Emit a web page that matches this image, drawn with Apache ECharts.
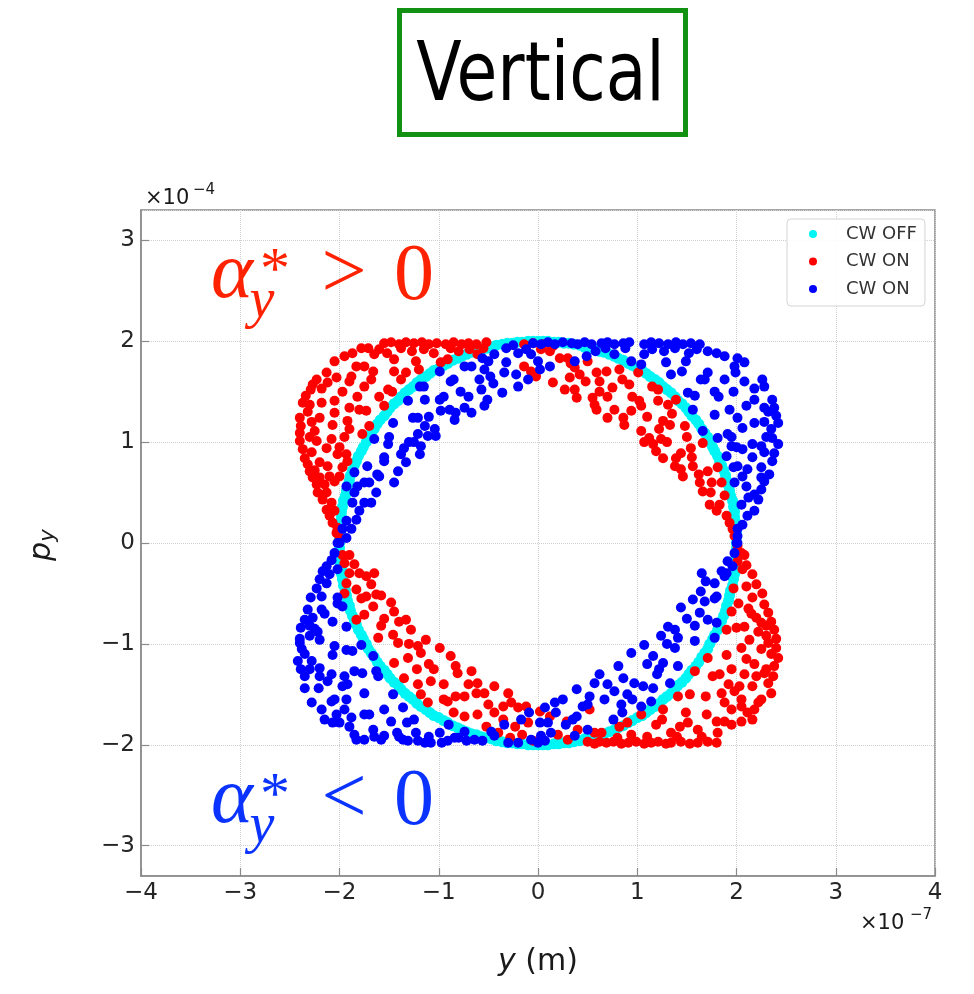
<!DOCTYPE html>
<html>
<head>
<meta charset="utf-8">
<script src="https://cdn.jsdelivr.net/npm/echarts@6/dist/echarts.min.js"></script>
<style>
  html, body { margin: 0; padding: 0; background: #ffffff; }
  #chart { width: 974px; height: 994px; }
</style>
</head>
<body>
<div id="chart"></div>
<script>
// Phase-space coordinates: y in units of 1e-7 m, p_y in units of 1e-4.

// Tick values of the two axes
const yTicks = [-4, -3, -2, -1, 0, 1, 2, 3, 4];
const pTicks = [-3, -2, -1, 0, 1, 2, 3];

// CW OFF: the unperturbed ring
const cwOff = [
  [2.00,0.00],[2.00,0.05],[2.00,0.10],[1.99,0.16],[1.99,0.21],[1.98,0.26],[1.98,0.31],[1.97,0.36],[1.96,0.42],[1.94,0.47],
  [1.93,0.52],[1.92,0.57],[1.90,0.62],[1.89,0.67],[1.87,0.72],[1.85,0.77],[1.83,0.81],[1.81,0.86],[1.78,0.91],[1.76,0.95],
  [1.73,1.00],[1.71,1.05],[1.68,1.09],[1.65,1.13],[1.62,1.18],[1.59,1.22],[1.55,1.26],[1.52,1.30],[1.49,1.34],[1.45,1.38],
  [1.41,1.41],[1.38,1.45],[1.34,1.49],[1.30,1.52],[1.26,1.55],[1.22,1.59],[1.18,1.62],[1.13,1.65],[1.09,1.68],[1.05,1.71],
  [1.00,1.73],[0.95,1.76],[0.91,1.78],[0.86,1.81],[0.81,1.83],[0.77,1.85],[0.72,1.87],[0.67,1.89],[0.62,1.90],[0.57,1.92],
  [0.52,1.93],[0.47,1.94],[0.42,1.96],[0.36,1.97],[0.31,1.98],[0.26,1.98],[0.21,1.99],[0.16,1.99],[0.10,2.00],[0.05,2.00],
  [0.00,2.00],[-0.05,2.00],[-0.10,2.00],[-0.16,1.99],[-0.21,1.99],[-0.26,1.98],[-0.31,1.98],[-0.36,1.97],[-0.42,1.96],[-0.47,1.94],
  [-0.52,1.93],[-0.57,1.92],[-0.62,1.90],[-0.67,1.89],[-0.72,1.87],[-0.77,1.85],[-0.81,1.83],[-0.86,1.81],[-0.91,1.78],[-0.95,1.76],
  [-1.00,1.73],[-1.05,1.71],[-1.09,1.68],[-1.13,1.65],[-1.18,1.62],[-1.22,1.59],[-1.26,1.55],[-1.30,1.52],[-1.34,1.49],[-1.38,1.45],
  [-1.41,1.41],[-1.45,1.38],[-1.49,1.34],[-1.52,1.30],[-1.55,1.26],[-1.59,1.22],[-1.62,1.18],[-1.65,1.13],[-1.68,1.09],[-1.71,1.05],
  [-1.73,1.00],[-1.76,0.95],[-1.78,0.91],[-1.81,0.86],[-1.83,0.81],[-1.85,0.77],[-1.87,0.72],[-1.89,0.67],[-1.90,0.62],[-1.92,0.57],
  [-1.93,0.52],[-1.94,0.47],[-1.96,0.42],[-1.97,0.36],[-1.98,0.31],[-1.98,0.26],[-1.99,0.21],[-1.99,0.16],[-2.00,0.10],[-2.00,0.05],
  [-2.00,0.00],[-2.00,-0.05],[-2.00,-0.10],[-1.99,-0.16],[-1.99,-0.21],[-1.98,-0.26],[-1.98,-0.31],[-1.97,-0.36],[-1.96,-0.42],[-1.94,-0.47],
  [-1.93,-0.52],[-1.92,-0.57],[-1.90,-0.62],[-1.89,-0.67],[-1.87,-0.72],[-1.85,-0.77],[-1.83,-0.81],[-1.81,-0.86],[-1.78,-0.91],[-1.76,-0.95],
  [-1.73,-1.00],[-1.71,-1.05],[-1.68,-1.09],[-1.65,-1.13],[-1.62,-1.18],[-1.59,-1.22],[-1.55,-1.26],[-1.52,-1.30],[-1.49,-1.34],[-1.45,-1.38],
  [-1.41,-1.41],[-1.38,-1.45],[-1.34,-1.49],[-1.30,-1.52],[-1.26,-1.55],[-1.22,-1.59],[-1.18,-1.62],[-1.13,-1.65],[-1.09,-1.68],[-1.05,-1.71],
  [-1.00,-1.73],[-0.95,-1.76],[-0.91,-1.78],[-0.86,-1.81],[-0.81,-1.83],[-0.77,-1.85],[-0.72,-1.87],[-0.67,-1.89],[-0.62,-1.90],[-0.57,-1.92],
  [-0.52,-1.93],[-0.47,-1.94],[-0.42,-1.96],[-0.36,-1.97],[-0.31,-1.98],[-0.26,-1.98],[-0.21,-1.99],[-0.16,-1.99],[-0.10,-2.00],[-0.05,-2.00],
  [0.00,-2.00],[0.05,-2.00],[0.10,-2.00],[0.16,-1.99],[0.21,-1.99],[0.26,-1.98],[0.31,-1.98],[0.36,-1.97],[0.42,-1.96],[0.47,-1.94],
  [0.52,-1.93],[0.57,-1.92],[0.62,-1.90],[0.67,-1.89],[0.72,-1.87],[0.77,-1.85],[0.81,-1.83],[0.86,-1.81],[0.91,-1.78],[0.95,-1.76],
  [1.00,-1.73],[1.05,-1.71],[1.09,-1.68],[1.13,-1.65],[1.18,-1.62],[1.22,-1.59],[1.26,-1.55],[1.30,-1.52],[1.34,-1.49],[1.38,-1.45],
  [1.41,-1.41],[1.45,-1.38],[1.49,-1.34],[1.52,-1.30],[1.55,-1.26],[1.59,-1.22],[1.62,-1.18],[1.65,-1.13],[1.68,-1.09],[1.71,-1.05],
  [1.73,-1.00],[1.76,-0.95],[1.78,-0.91],[1.81,-0.86],[1.83,-0.81],[1.85,-0.77],[1.87,-0.72],[1.89,-0.67],[1.90,-0.62],[1.92,-0.57],
  [1.93,-0.52],[1.94,-0.47],[1.96,-0.42],[1.97,-0.36],[1.98,-0.31],[1.98,-0.26],[1.99,-0.21],[1.99,-0.16],[2.00,-0.10],[2.00,-0.05]
];

// CW ON, positive alpha (red)
const cwOnPos = [
  // upper-left lobe
  [-1.55,1.98],[-1.48,1.99],[-1.40,1.97],[-1.33,1.99],[-1.25,1.98],[-1.17,1.99],[-1.10,1.97],[-1.02,1.98],[-0.93,1.97],[-0.85,1.99],
  [-0.77,1.97],[-0.70,1.98],[-0.62,1.97],[-0.52,1.99],[-0.14,1.97],[-0.05,1.98],
  [-1.78,1.93],[-1.71,1.93],[-1.87,1.88],[-1.95,1.85],[-2.05,1.80],[-1.65,1.87],[-1.45,1.82],[-1.23,1.80],[-1.33,1.69],[-0.91,1.82],
  [-0.98,1.79],[-0.69,1.92],[-0.61,1.87],[-0.55,1.93],[-1.05,1.88],[-0.80,1.90],[-1.20,1.72],[-1.38,1.62],[-1.60,1.45],
  [-2.13,1.69],[-2.23,1.62],[-2.27,1.57],[-2.29,1.52],[-2.12,1.59],[-2.03,1.64],[-1.90,1.60],[-1.88,1.65],[-1.75,1.55],[-1.66,1.70],
  [-1.75,1.75],[-1.83,1.75],[-1.51,1.52],[-1.47,1.50],
  [-2.34,1.46],[-2.37,1.39],[-2.30,1.37],[-2.18,1.39],[-2.05,1.41],[-1.90,1.34],[-1.80,1.32],[-1.73,1.31],[-1.55,1.36],[-2.40,1.24],
  [-2.20,1.24],[-2.05,1.29],[-2.39,1.16],[-2.07,1.17],[-1.92,1.21],[-2.40,1.09],[-2.25,1.11],[-1.90,1.13],[-1.70,1.16],[-1.77,1.08],
  [-2.40,1.01],[-2.23,1.01],[-2.08,1.03],[-2.13,0.94],[-2.37,0.93],[-2.02,0.88],[-1.93,0.88],[-1.92,0.81],[-2.35,0.84],[-2.32,0.78],
  [-2.20,0.80],[-2.12,0.76],[-2.30,0.71],[-2.27,0.65],[-2.10,0.66],[-2.00,0.66],[-2.23,0.58],[-2.15,0.58],[-2.05,0.61],[-2.22,0.50],
  [-2.13,0.50],[-2.17,0.43],[-2.08,0.40],[-2.13,0.33],[-2.05,0.32],[-2.10,0.27],[-2.07,0.20],[-2.02,0.15],[-2.03,0.10],[-2.00,0.06],
  [-1.60,1.92],[-1.38,1.93],[-1.15,1.92],[-0.88,1.93],[-1.27,1.90],[-1.52,1.88],[-2.18,1.53],[-2.32,1.30],[-2.28,1.20],[-2.30,1.05],
  [-2.28,0.90],[-2.25,0.72],[-2.20,0.65],[-1.97,1.50],[-1.68,1.62],[-1.45,1.70],[-1.95,1.05],[-1.82,1.45],[-2.00,0.95],[-1.97,0.75],
  // band inside the ring, upper right
  [-0.14,1.75],[-0.07,1.70],[-0.02,1.65],[0.05,1.97],[0.15,1.95],[0.33,1.78],
  [0.03,1.92],[0.12,1.90],[0.22,1.83],[0.30,1.83],[0.37,1.74],[0.32,1.64],[0.42,1.67],[0.15,1.59],[0.27,1.52],[0.37,1.52],
  [0.39,1.44],[0.59,1.69],[0.69,1.70],[0.82,1.72],[0.62,1.60],[0.62,1.50],[0.75,1.54],[0.92,1.57],[1.01,1.69],[0.55,1.44],
  [0.57,1.37],[0.59,1.32],[0.77,1.32],[0.70,1.24],[0.86,1.24],[0.87,1.17],[0.94,1.31],[1.02,1.41],[1.04,1.36],[1.21,1.52],
  [1.21,1.41],[1.31,1.37],[1.39,1.42],[1.26,1.21],[1.33,1.17],[1.22,1.13],[1.04,1.11],[1.12,1.04],[1.16,0.98],[1.24,1.03],
  [1.48,1.16],[1.07,1.00],[1.19,0.91],[1.26,0.84],[1.39,0.84],[1.44,0.89],[1.54,0.94],[1.66,0.99],[1.38,0.76],[1.44,0.73],
  [1.56,0.76],[1.71,0.71],[1.81,0.75],[1.63,0.60],[1.46,0.66],[1.66,0.51],[1.74,0.50],[1.85,0.60],[1.88,0.47],[1.73,0.38],
  [1.83,0.38],[1.80,0.32],[1.90,0.27],[1.93,0.20],[1.96,0.14],[1.98,0.07],
  [0.48,1.60],[0.70,1.45],[0.95,1.45],[1.10,1.25],[1.30,1.00],[1.55,0.85],[1.62,0.68],[1.75,0.60],[1.50,1.05],[0.85,1.62],
  [1.15,1.55],[0.50,1.80],[1.35,1.28],
  // band inside the ring, lower left
  [-1.97,-0.12],[-1.95,-0.20],[-1.90,-0.12],[-1.85,-0.21],[-1.80,-0.30],[-1.73,-0.33],[-1.93,-0.40],[-1.95,-0.50],[-1.83,-0.46],[-1.68,-0.41],
  [-1.73,-0.53],[-1.63,-0.51],[-1.58,-0.52],[-1.66,-0.63],[-1.48,-0.59],[-1.45,-0.68],[-1.40,-0.78],[-1.83,-0.76],[-1.75,-0.71],[-1.61,-0.94],
  [-1.46,-0.91],[-1.33,-0.76],[-1.28,-0.86],[-1.41,-0.99],[-1.21,-1.02],[-1.18,-1.09],[-1.13,-0.96],[-0.99,-1.04],[-0.88,-1.12],[-1.45,-1.19],
  [-1.31,-1.14],[-0.83,-1.22],[-0.81,-1.29],[-0.67,-1.27],[-1.35,-1.34],[-1.21,-1.40],[-1.08,-1.37],[-1.18,-1.50],[-1.11,-1.58],[-0.91,-1.57],
  [-0.83,-1.52],[-0.74,-1.52],[-0.61,-1.39],[-0.62,-1.49],[-0.54,-1.49],[-0.44,-1.42],[-0.74,-1.72],[-0.61,-1.70],[-0.52,-1.82],[-0.44,-1.68],
  [-0.30,-1.49],[-0.27,-1.58],[-0.20,-1.63],[-0.10,-1.78],[-0.12,-1.62],[-0.40,-1.88],[-0.23,-1.82],[-0.16,-1.90],[-0.05,-1.96],[-1.55,-0.75],
  [-1.05,-1.25],[-0.95,-1.40],[-0.35,-1.62],[-0.28,-1.93],
  [-1.78,-0.55],[-1.58,-0.82],[-1.30,-1.00],[-1.10,-1.20],[-0.95,-1.55],[-0.70,-1.40],[-0.50,-1.60],[-0.35,-1.75],[-1.65,-0.30],[-1.90,-0.30],
  [-1.22,-1.25],[-0.85,-1.68],
  // lower-right lobe
  [0.50,-1.97],[0.57,-1.99],[0.62,-1.97],[0.69,-1.98],[0.76,-1.97],[0.84,-1.99],[0.91,-1.98],[0.99,-1.97],[1.07,-1.99],[1.14,-1.98],
  [1.21,-1.97],[1.29,-1.99],[1.34,-1.98],[1.44,-1.97],[1.53,-1.99],[1.61,-1.98],[1.71,-1.97],[1.80,-1.98],
  [0.02,-1.67],[0.12,-1.72],[0.29,-1.77],[0.40,-1.85],[0.20,-1.90],[0.30,-1.95],[0.52,-1.65],[0.57,-1.88],[0.64,-1.88],[0.82,-1.82],
  [1.04,-1.70],[1.19,-1.80],[0.94,-1.90],[1.26,-1.65],[1.34,-1.88],[1.43,-1.82],[1.51,-1.78],[1.49,-1.68],[1.61,-1.85],[1.81,-1.88],
  [1.80,-1.77],[1.88,-1.77],[1.95,-1.80],[2.05,-1.77],[2.11,-1.68],[2.16,-1.75],[2.18,-1.65],[2.05,-1.62],[1.88,-1.58],[1.69,-1.52],
  [1.85,-1.49],[1.98,-1.47],[2.16,-1.42],[2.32,-1.39],[2.35,-1.49],[2.37,-1.32],[2.28,-1.29],[2.18,-1.20],[2.38,-1.22],[2.42,-1.14],
  [2.40,-1.04],[2.32,-0.99],[2.38,-0.86],[2.25,-0.79],[2.35,-0.78],[2.32,-0.69],[2.20,-0.74],[2.28,-0.61],[2.16,-0.54],[2.26,-0.50],
  [2.20,-0.41],[2.10,-0.43],[2.16,-0.31],[2.06,-0.26],[2.01,-0.18],[2.05,-0.10],[2.01,-0.03],[1.95,-0.68],[1.90,-0.86],[2.00,-0.84],
  [2.08,-0.83],[2.13,-0.96],[1.90,-1.11],[2.05,-1.04],[1.71,-1.14],[1.76,-1.32],[1.83,-1.30],[1.58,-1.27],[2.03,-1.42],[1.41,-1.52],
  [1.53,-1.50],[2.25,-1.05],[2.10,-1.15],[1.95,-1.25],[2.25,-1.55],[2.30,-0.92],[2.12,-0.65],[1.97,-0.45],[2.22,-1.58],[2.08,-0.12],
  [2.10,-0.22],
  [1.65,-1.92],[1.40,-1.92],[1.10,-1.92],[0.80,-1.93],[2.30,-1.25],[2.40,-0.95],[2.30,-0.82],[2.22,-0.88],[2.20,-1.32],[2.05,-1.55],
  [1.95,-1.65],[2.15,-0.70],[2.02,-0.60],[2.08,-1.30],[1.92,-1.40],[1.70,-1.70],[1.25,-1.75],[0.90,-1.78],[2.35,-1.10]
];

// CW ON, negative alpha (blue)
const cwOnNeg = [
  // band inside the ring, upper left
  [-0.05,1.98],[-0.07,1.87],[-0.20,1.88],[-0.32,1.93],[-0.44,1.87],[-0.56,1.83],[-0.32,1.79],[-0.22,1.67],[-0.10,1.62],[-0.20,1.55],
  [-0.34,1.69],[-0.36,1.49],[-0.54,1.72],[-0.59,1.62],[-0.67,1.75],[-0.74,1.75],[-0.99,1.70],[-0.88,1.60],[-0.57,1.52],[-0.51,1.42],
  [-0.54,1.36],[-0.67,1.29],[-0.74,1.34],[-0.83,1.29],[-0.84,1.22],[-0.89,1.32],[-0.99,1.42],[-0.98,1.31],[-1.14,1.42],[-1.19,1.55],
  [-1.31,1.41],[-1.26,1.24],[-1.21,1.24],[-1.14,1.16],[-1.04,1.13],[-1.03,1.06],[-1.11,1.06],[-1.21,1.08],[-1.18,0.96],[-1.19,0.88],
  [-1.35,0.94],[-1.38,0.88],[-1.33,0.80],[-1.41,0.71],[-1.46,1.19],[-1.55,0.81],[-1.51,0.98],[-1.65,1.03],[-1.72,0.76],[-1.60,0.66],
  [-1.70,0.60],[-1.82,0.56],[-1.63,0.50],[-1.85,0.70],[-1.93,0.56],[-1.85,0.50],[-1.75,0.40],[-1.68,0.40],[-1.87,0.40],[-1.80,0.32],
  [-1.83,0.23],[-1.93,0.22],[-1.88,0.14],[-1.97,0.14],[-1.93,0.05],[-2.00,0.00],[-0.25,1.96],[-0.12,1.92],[-0.45,1.58],[-0.78,1.50],
  [-1.25,1.00],[-1.45,0.60],
  [-0.48,1.65],[-0.70,1.45],[-0.95,1.45],[-1.10,1.25],[-1.30,1.00],[-1.55,0.85],[-1.62,0.68],[-1.75,0.60],[-1.50,1.05],[-0.85,1.62],
  [-1.15,1.55],[-0.50,1.80],
  // upper-right lobe
  [0.03,1.97],[0.10,1.99],[0.17,1.97],[0.25,1.99],[0.34,1.98],[0.40,1.97],[0.47,1.99],[0.54,1.97],[0.64,1.98],[0.70,1.99],
  [0.77,1.97],[0.86,1.98],[0.92,1.99],[1.07,1.97],[1.14,1.99],[1.22,1.98],[1.31,1.97],[1.39,1.99],[1.46,1.97],[1.54,1.98],[1.63,1.97],
  [1.71,1.90],[1.80,1.88],[1.88,1.85],[2.01,1.83],[2.08,1.79],[1.98,1.75],[1.71,1.69],[1.49,1.80],[1.29,1.79],[1.34,1.67],
  [1.07,1.87],[1.04,1.77],[0.94,1.80],[0.77,1.87],[0.49,1.85],[0.58,1.90],[0.68,1.93],[0.37,1.80],[0.12,1.75],[0.02,1.72],[0.00,1.80],
  [1.64,1.62],[1.88,1.62],[1.78,1.50],[1.99,1.69],[2.08,1.60],[2.26,1.62],[2.28,1.55],[2.18,1.42],[2.28,1.34],[2.36,1.42],
  [2.38,1.34],[2.40,1.26],[2.42,1.19],[2.35,1.13],[2.36,1.04],[2.42,0.98],[2.38,0.89],[2.36,0.81],[2.33,0.68],[2.28,0.61],
  [2.25,0.53],[2.18,0.48],[2.22,0.43],[2.18,0.32],[2.11,0.27],[2.06,0.18],[2.01,0.14],[2.01,0.07],[2.00,0.00],
  [1.51,1.49],[1.58,1.46],[1.56,1.32],[1.78,1.27],[1.93,1.32],[2.01,1.24],[2.10,1.36],[2.18,1.19],[2.06,1.14],[1.91,1.08],
  [1.81,1.04],[1.66,1.11],[1.95,0.96],[2.06,0.93],[2.16,0.98],[2.25,0.96],[2.16,0.85],[1.90,0.86],[2.01,0.76],[2.11,0.73],
  [2.06,0.66],[1.98,0.60],[2.10,0.56],[2.05,0.38],[2.25,0.75],[2.12,0.45],
  [1.60,1.92],[1.38,1.93],[1.15,1.92],[0.88,1.93],[1.27,1.90],[1.52,1.88],[2.18,1.53],[2.32,1.30],[2.28,1.20],[2.30,1.05],
  [2.28,0.90],[2.25,0.65],[1.97,1.50],[1.68,1.62],[1.45,1.70],[1.95,1.05],[1.82,1.45],[2.00,0.95],[1.97,0.75],
  // lower-left lobe
  [-2.02,0.00],[-2.05,-0.10],[-2.08,-0.17],[-2.13,-0.23],[-2.17,-0.28],[-2.02,-0.26],[-2.10,-0.31],[-2.20,-0.36],[-2.23,-0.45],[-2.13,-0.40],
  [-2.29,-0.54],[-2.18,-0.53],[-2.02,-0.54],[-1.97,-0.63],[-2.32,-0.66],[-2.18,-0.66],[-2.27,-0.74],[-2.35,-0.76],[-2.07,-0.78],[-1.93,-0.83],
  [-2.39,-0.84],[-2.30,-0.92],[-2.20,-0.96],[-2.40,-0.99],[-2.05,-1.02],[-1.93,-1.06],[-1.87,-1.07],[-2.07,-1.11],[-1.78,-1.01],[-1.66,-1.12],
  [-2.42,-1.17],[-2.28,-1.17],[-2.39,-1.25],[-2.20,-1.24],[-2.35,-1.32],[-2.12,-1.37],[-1.95,-1.32],[-1.85,-1.27],[-1.77,-1.29],[-1.63,-1.27],
  [-1.61,-1.32],[-2.35,-1.44],[-2.21,-1.44],[-1.97,-1.42],[-1.75,-1.49],[-1.46,-1.50],[-2.28,-1.58],[-2.08,-1.57],[-1.93,-1.55],[-2.18,-1.65],
  [-2.03,-1.70],[-2.15,-1.75],[-2.07,-1.78],[-2.00,-1.78],[-1.88,-1.73],[-1.75,-1.70],[-1.55,-1.65],[-1.36,-1.63],[-1.48,-1.77],[-1.32,-1.78],
  [-1.90,-1.82],[-1.66,-1.85],[-1.85,-1.90],[-1.75,-1.95],[-1.83,-1.95],[-1.58,-1.95],[-1.55,-1.91],[-1.42,-1.88],[-1.36,-1.95],[-1.31,-1.96],
  [-1.23,-1.88],[-1.21,-1.96],[-1.14,-1.98],[-1.08,-1.98],[-0.99,-1.88],[-0.97,-1.98],[-0.91,-1.96],[-0.84,-1.93],[-0.74,-1.87],[-0.72,-1.96],
  [-0.64,-1.95],[-0.56,-1.96],[-0.47,-1.87],[-0.44,-1.91],[-0.34,-1.80],[-0.30,-1.98],[-0.20,-1.98],[-0.09,-1.68],[-0.17,-1.75],[-0.07,-1.95],
  [0.00,-1.98],[-2.38,-1.05],[-2.25,-0.85],
  [-1.65,-1.92],[-1.40,-1.92],[-1.10,-1.92],[-0.80,-1.93],[-2.30,-1.25],[-2.40,-0.95],[-2.30,-0.82],[-2.22,-0.88],[-2.20,-1.32],[-2.05,-1.55],
  [-1.95,-1.65],[-2.15,-0.70],[-2.02,-0.60],[-2.08,-1.30],[-1.92,-1.40],[-1.70,-1.70],[-1.25,-1.75],[-0.90,-1.80],[-2.35,-1.10],
  // band inside the ring, lower right
  [2.01,0.00],[1.98,-0.10],[1.91,-0.18],[1.96,-0.23],[1.88,-0.33],[1.78,-0.40],[1.69,-0.38],[1.64,-0.48],[1.80,-0.53],[1.68,-0.58],
  [1.56,-0.56],[1.44,-0.64],[1.63,-0.69],[1.71,-0.76],[1.80,-0.79],[1.31,-0.83],[1.38,-0.86],[1.41,-0.94],[1.24,-0.92],[1.58,-0.97],
  [1.78,-0.94],[1.38,-1.04],[1.07,-1.01],[1.16,-1.12],[0.94,-1.09],[1.26,-1.19],[1.41,-1.22],[0.81,-1.22],[0.86,-1.34],[0.97,-1.39],
  [1.06,-1.42],[1.16,-1.44],[1.33,-1.39],[1.04,-1.62],[1.14,-1.57],[0.77,-1.47],[0.62,-1.30],[0.57,-1.39],[0.52,-1.52],[0.67,-1.55],
  [0.84,-1.60],[0.76,-1.75],[0.39,-1.45],[0.25,-1.55],[0.17,-1.58],[0.07,-1.63],[0.18,-1.68],[0.39,-1.72],[0.02,-1.78],[0.10,-1.78],
  [0.13,-1.88],[0.03,-1.91],[0.50,-1.85],[0.37,-1.91],[0.07,-1.96],[1.50,-0.75],[1.20,-1.30],[0.90,-1.50],[0.45,-1.62],[0.28,-1.80],
  [1.85,-0.28],
  [1.78,-0.55],[1.58,-0.82],[1.30,-1.00],[1.10,-1.20],[0.95,-1.55],[0.70,-1.40],[0.50,-1.60],[0.35,-1.75],[1.65,-0.30],[1.90,-0.30],
  [1.22,-1.25],[0.85,-1.68]
];

const seriesNames = ['CW OFF', 'CW ON', 'CW ON '];
const seriesColors = ['#00f5f5', '#ff0000', '#0000ff'];

const minusSign = v => String(v).replace('-', '\u2212');
const tickFont = { fontFamily: 'DejaVu Sans', fontSize: 23, color: '#262626' };
const frameColor = '#8a8a8a';

const chart = echarts.init(document.getElementById('chart'), null, { renderer: 'canvas' });

// Pieces of the alpha annotations (symbol, superscript, subscript, relation, zero)
function alphaLabel(color, relation, dy) {
  const serif = '"Liberation Serif", "DejaVu Serif", serif';
  const piece = (text, x, y, size, italic) => ({
    type: 'text', x: x, y: y + dy, z: 20,
    style: {
      text: text, fill: color,
      font: (italic ? 'italic ' : '') + size + 'px ' + serif,
      align: 'center', verticalAlign: 'middle',
      textAlign: 'center', textVerticalAlign: 'middle'
    }
  });
  return [
    piece('\u03b1', 232, 800.6, 80, true),
    piece('*', 275, 797, 60, false),
    piece('y', 262, 827.4, 56, true),
    piece(relation, 344, 801, 80, false),
    piece('0', 414, 803, 80, false)
  ];
}

function plainText(text, x, y, size, extra) {
  return Object.assign({
    type: 'text', x: x, y: y, z: 20,
    style: {
      text: text, fill: '#1a1a1a',
      font: size + 'px "DejaVu Sans"',
      align: 'left', verticalAlign: 'middle',
      textAlign: 'left', textVerticalAlign: 'middle'
    }
  }, extra || {});
}

const graphics = [
  // title box
  { type: 'rect', z: 10, shape: { x: 399.5, y: 10.5, width: 286, height: 124 },
    style: { fill: '#ffffff', stroke: '#129112', lineWidth: 5 } },
  { type: 'text', z: 11, x: 540.5, y: 78.6, scaleX: 0.81, scaleY: 1,
    style: { text: 'Vertical', fill: '#000000', font: '82px "DejaVu Sans"',
             align: 'center', verticalAlign: 'middle', textAlign: 'center', textVerticalAlign: 'middle' } },
  // axis scale factors
  plainText('\u00d710', 145, 198.8, 21),
  plainText('\u22124', 193, 190.5, 15),
  plainText('\u00d710', 860, 924, 21),
  plainText('\u22127', 910, 915.5, 15),
  // x-axis title
  { type: 'text', z: 20, x: 538, y: 962,
    style: { text: '{i|y} (m)', fill: '#1a1a1a', font: '30px "DejaVu Sans"',
             align: 'center', verticalAlign: 'middle', textAlign: 'center', textVerticalAlign: 'middle',
             rich: { i: { fontStyle: 'italic', fontSize: 30, fontFamily: 'DejaVu Sans', fill: '#1a1a1a' } } } },
  // y-axis title, rotated
  { type: 'group', x: 51, y: 544, rotation: Math.PI / 2, z: 20,
    children: [
      { type: 'text', x: -7.5, y: -8.9,
        style: { text: 'p', fill: '#1a1a1a', font: 'italic 30px "DejaVu Sans"',
                 align: 'center', verticalAlign: 'middle', textAlign: 'center', textVerticalAlign: 'middle' } },
      { type: 'text', x: 8.5, y: -2.2,
        style: { text: 'y', fill: '#1a1a1a', font: 'italic 21px "DejaVu Sans"',
                 align: 'center', verticalAlign: 'middle', textAlign: 'center', textVerticalAlign: 'middle' } }
    ] }
].concat(alphaLabel('#ff2200', '>', -525), alphaLabel('#0a33ff', '<', 0));

const option = {
  animation: false,
  backgroundColor: '#ffffff',
  grid: { left: 141, right: 39, top: 210, bottom: 118, show: true,
          borderColor: frameColor, borderWidth: 1.5, backgroundColor: 'transparent' },
  legend: {
    orient: 'vertical', left: 787, top: 219,
    padding: [6, 8, 8, 22], itemGap: 9.5, itemWidth: 8, itemHeight: 8,
    borderColor: '#d4d4d4', borderWidth: 1, borderRadius: 4,
    backgroundColor: 'rgba(255,255,255,0.9)',
    textStyle: { fontFamily: 'DejaVu Sans', fontSize: 18, color: '#333333', padding: [0, 0, 0, 24] },
    formatter: n => n.trim(),
    data: seriesNames.map(n => ({ name: n, icon: 'circle' })),
    selectedMode: false
  },
  xAxis: {
    type: 'value', min: yTicks[0], max: yTicks[yTicks.length - 1], interval: 1,
    axisLine: { show: true, onZero: false, lineStyle: { color: frameColor, width: 1.5 } },
    axisTick: { show: true, inside: true, length: 8, lineStyle: { color: frameColor, width: 1.2 } },
    axisLabel: Object.assign({ margin: 6, formatter: v => minusSign(v) }, tickFont),
    splitLine: { show: true, lineStyle: { color: '#cfcfcf', type: 'dotted', width: 1 } }
  },
  yAxis: {
    type: 'value', min: -3.3, max: 3.3, splitNumber: pTicks.length - 1, minInterval: 1, maxInterval: 1,
    axisLine: { show: true, onZero: false, lineStyle: { color: frameColor, width: 1.5 } },
    axisTick: { show: true, inside: true, length: 8, lineStyle: { color: frameColor, width: 1.2 } },
    axisLabel: Object.assign({ margin: 6, showMinLabel: false, showMaxLabel: false,
                               formatter: v => minusSign(v) }, tickFont),
    splitLine: { show: true, lineStyle: { color: '#cfcfcf', type: 'dotted', width: 1 } }
  },
  series: [
    { name: seriesNames[0], type: 'scatter', data: cwOff, symbolSize: 11,
      itemStyle: { color: seriesColors[0], opacity: 1 }, z: 2 },
    { name: seriesNames[1], type: 'scatter', data: cwOnPos, symbolSize: 10,
      itemStyle: { color: seriesColors[1], opacity: 1 }, z: 3 },
    { name: seriesNames[2], type: 'scatter', data: cwOnNeg, symbolSize: 10,
      itemStyle: { color: seriesColors[2], opacity: 1 }, z: 4 }
  ],
  graphic: graphics
};

chart.setOption(option);
</script>
</body>
</html>
